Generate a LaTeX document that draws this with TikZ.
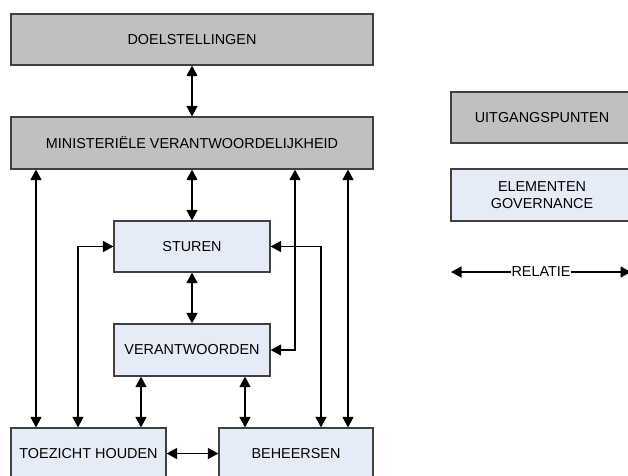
\documentclass[tikz,border=0pt]{standalone}
\usepackage{fontspec}
\setmainfont{Liberation Sans}
\usetikzlibrary{arrows.meta}
\definecolor{boxgray}{HTML}{C0C0C0}
\definecolor{boxblue}{HTML}{E6ECF7}
\definecolor{edge}{HTML}{404040}
\begin{document}
\begin{tikzpicture}[x=1pt,y=-1pt,
  basebox/.style={draw=edge,line width=1.2pt,rectangle,inner sep=0pt,align=center,
    font=\fontsize{14.4}{17.5}\selectfont},
  graybox/.style={basebox,fill=boxgray},
  bluebox/.style={basebox,fill=boxblue},
  rel/.style={line width=1.3pt,{Triangle[length=10.5pt,width=11pt]}-{Triangle[length=10.5pt,width=11pt]}},
  lbl/.style={font=\fontsize{14.4}{17.5}\selectfont,fill=white,inner sep=1pt}]
\useasboundingbox (0,0) rectangle (628,475);
% boxes
\node[graybox,minimum width=362pt,minimum height=51pt] (doel) at (192,39.5) {DOELSTELLINGEN};
\node[graybox,minimum width=362pt,minimum height=52pt] (min) at (192,143) {MINISTERIËLE VERANTWOORDELIJKHEID};
\node[bluebox,minimum width=156pt,minimum height=51pt] (sturen) at (192,246.5) {STUREN};
\node[bluebox,minimum width=156pt,minimum height=52pt] (verantw) at (192,350) {VERANTWOORDEN};
\node[bluebox,minimum width=155pt,minimum height=51pt] (toez) at (88.5,453.5) {TOEZICHT HOUDEN};
\node[bluebox,minimum width=154pt,minimum height=51pt] (beh) at (296,453.5) {BEHEERSEN};
% legend
\node[graybox,minimum width=182pt,minimum height=51pt] (legU) at (542,117.5) {UITGANGSPUNTEN};
\node[bluebox,minimum width=182pt,minimum height=52pt] (legE) at (542,195) {ELEMENTEN\\GOVERNANCE};
\coordinate (r1) at (451,272);
\coordinate (r2) at (631,272);
\draw[rel] (r1) -- node[lbl] (rlab) {RELATIE} (r2);
% x positions
\coordinate (x36) at (36,0);
\coordinate (x78) at (78,0);
\coordinate (x141) at (141,0);
\coordinate (x245) at (245,0);
\coordinate (x295) at (295,0);
\coordinate (x321) at (321,0);
\coordinate (x348) at (348,0);
% connectors
\draw[rel] (doel.south) -- (min.north);
\draw[rel] (min.south) -- (sturen.north);
\draw[rel] (sturen.south) -- (verantw.north);
\draw[rel] (min.south -| x36) -- (toez.north -| x36);
\draw[rel] (sturen.west) -| (toez.north -| x78);
\draw[rel] (verantw.south -| x141) -- (toez.north -| x141);
\draw[rel] (verantw.south -| x245) -- (beh.north -| x245);
\draw[rel] (min.south -| x295) |- (verantw.east);
\draw[rel] (sturen.east) -| (beh.north -| x321);
\draw[rel] (min.south -| x348) -- (beh.north -| x348);
\draw[rel] (toez.east) -- (beh.west);
\end{tikzpicture}
\end{document}
